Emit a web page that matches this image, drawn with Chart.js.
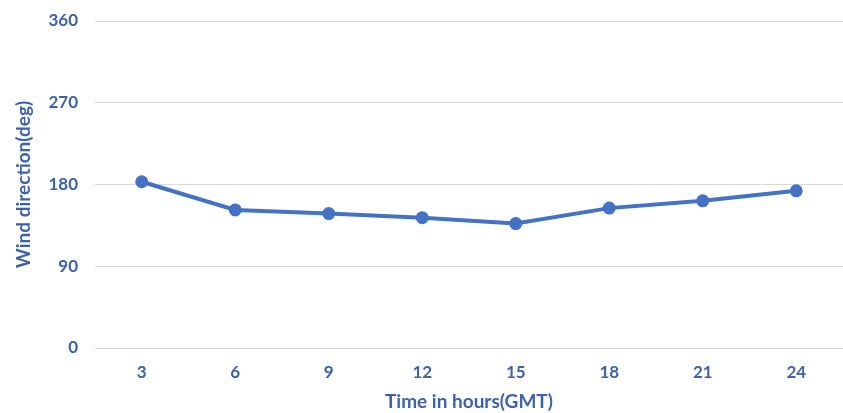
<!DOCTYPE html>
<html>
<head>
<meta charset="utf-8">
<script src="https://cdn.jsdelivr.net/npm/chart.js@4"></script>
<style>
html,body{margin:0;padding:0;background:#fff;}
#wrap{width:843px;height:413px;position:relative;}
</style>
</head>
<body>
<div id="wrap"><canvas id="c" width="843" height="413"></canvas></div>
<script>
const hours = ["3","6","9","12","15","18","21","24"];
const windDirection = [183, 152, 148, 143.5, 137, 154, 162, 173];
const yTicks = [0, 90, 180, 270, 360];

const blue = '#4472c4';
const textBlue = '#3d62ad';
const font = {family: 'Lato, "Open Sans", sans-serif', weight: 'bold', size: 17};
const titleFont = {family: 'Lato, "Open Sans", sans-serif', weight: 'bold', size: 19};

new Chart(document.getElementById('c'), {
  type: 'line',
  data: {
    labels: hours,
    datasets: [{
      data: windDirection,
      borderColor: blue,
      backgroundColor: blue,
      borderWidth: 4,
      pointRadius: 4.5,
      pointHoverRadius: 4.5,
      tension: 0,
      fill: false,
      clip: false
    }]
  },
  options: {
    responsive: false,
    animation: false,
    devicePixelRatio: 1,
    layout: {autoPadding: false, padding: {top: 21, right: 0, left: 0, bottom: 0}},
    plugins: {legend: {display: false}, tooltip: {enabled: false}},
    scales: {
      x: {
        offset: true,
        grid: {display: false, drawTicks: false},
        border: {display: false},
        ticks: {color: textBlue, font: font, padding: 14},
        title: {display: true, text: 'Time in hours(GMT)', color: textBlue, font: titleFont, padding: {top: 8, bottom: 0}},
        afterFit: (s) => { s.height = 65; s.paddingLeft = 0; s.paddingRight = 0; }
      },
      y: {
        min: 0, max: 360,
        afterBuildTicks: (s) => { s.ticks = yTicks.map(v => ({value: v})); },
        grid: {color: '#d9d9d9', lineWidth: 1, drawTicks: false},
        border: {display: false},
        ticks: {color: textBlue, font: font, padding: 17},
        title: {display: true, text: 'Wind direction(deg)', color: textBlue, font: titleFont, padding: {top: 12, bottom: 0}},
        afterFit: (s) => { s.width = 95; s.paddingTop = 0; s.paddingBottom = 0; }
      }
    }
  }
});
</script>
</body>
</html>
